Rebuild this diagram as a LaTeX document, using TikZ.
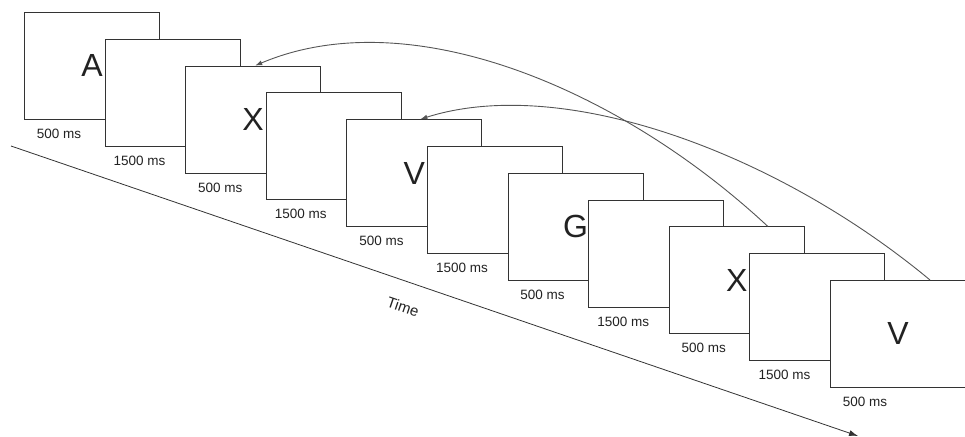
\documentclass[tikz,border=0pt]{standalone}
\usepackage{fontspec}
\setmainfont{Liberation Sans}
\usetikzlibrary{calc,arrows.meta}
\definecolor{boxline}{HTML}{333333}
\definecolor{arcline}{HTML}{555555}
\definecolor{txt}{HTML}{222222}
\tikzset{
  screen/.style={draw=boxline,line width=0.9pt,fill=white,minimum width=135pt,minimum height=107pt,inner sep=0pt,anchor=north west,font=\fontsize{32}{32}\selectfont,text=txt},
  durlabel/.style={font=\fontsize{13.5}{14}\selectfont,text=txt,inner sep=0pt},
  backarc/.style={draw=arcline,line width=0.9pt,-{Latex[length=7pt,width=5pt]}},
  timeaxis/.style={draw=boxline,line width=0.8pt,-{Latex[length=9pt,width=6pt]}}
}
\begin{document}
\begin{tikzpicture}[x=1pt,y=-1pt]
\useasboundingbox (0,0) rectangle (965,436);
% time axis
\coordinate (t0) at (11,146);
\coordinate (t1) at (858,436);
\draw[timeaxis] (t0) -- (t1);
\node[font=\fontsize{15}{15}\selectfont,text=txt,rotate=-18.9,inner sep=0pt] (timelbl) at (403,307) {Time};
% screens
\foreach \i/\txtx/\dur in {1/A/500,2//1500,3/X/500,4//1500,5/V/500,6//1500,7/G/500,8//1500,9/X/500,10//1500,11/V/500}{
  \node[screen] (b\i) at ({24+(\i-1)*80.6},{12+(\i-1)*26.8}) {\txtx};
  \node[durlabel] (l\i) at ($(b\i.south west)+(35,14)$) {\dur{} ms};
}
% arcs
\coordinate (a1s) at ($(b9.north west)+(99,0)$);
\coordinate (a1e) at ($(b3.north west)+(70,0)$);
\coordinate (a2s) at ($(b11.north west)+(100,0)$);
\coordinate (a2e) at ($(b5.north west)+(74,0)$);
\draw[backarc] (a1s) .. controls +(-146,-136) and +(156,-66) .. (a1e);
\draw[backarc] (a2s) .. controls +(-154,-128) and +(142,-45) .. (a2e);
\end{tikzpicture}
\end{document}
